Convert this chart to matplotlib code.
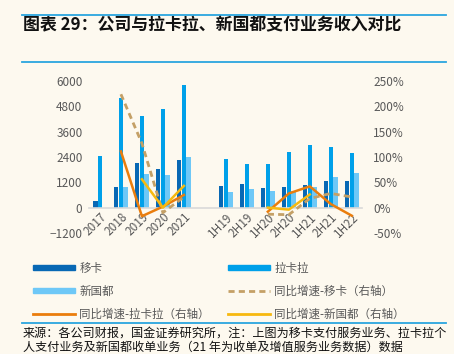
import numpy as np
import matplotlib
matplotlib.use('Agg')
import matplotlib.pyplot as plt
from matplotlib.lines import Line2D
from matplotlib.patches import Patch

plt.rcParams['font.family'] = ['Noto Sans CJK SC', 'DejaVu Sans']

# =========================
# Data
# =========================
cats = ['2017', '2018', '2019', '2020', '2021',
        '1H19', '2H19', '1H20', '2H20', '1H21', '2H21', '1H22']
# revenue (left axis)
yika = [320, 955, 2100, 1810, 2275, 1030, 1100, 920, 985, 1065, 1270, 1240]
lakala = [2430, 5200, 4340, 4690, 5790, 2290, 2080, 2080, 2650, 2990, 2880, 2575]
xinguodu = [np.nan, 1000, 1590, 1530, 2385, 745, 875, 810, 800, 990, 1445, 1640]
# yoy growth, % (right axis)
g_yika = [np.nan, 224, 127, -10, 21, np.nan, np.nan, -13, -14, 18, 28, 21]
g_lakala = [np.nan, 111, -17, 2, 25, np.nan, np.nan, -8, 28, 42, 7, -16]
g_xinguodu = [np.nan, np.nan, 56, 0, 43, np.nan, np.nan, 0, -4, 26, np.nan, np.nan]

c_yika = '#0868b4'
c_lakala = '#00a0e9'
c_xgd = '#6ec8f7'
c_gy = '#c4a066'
c_gl = '#ea7d0c'
c_gx = '#f7b90f'
bg = '#fdf9ef'
grey = '#595959'

# annual groups, one empty slot, then half-year groups
x = np.r_[np.arange(5), np.arange(6, 13)]

fig = plt.figure(figsize=(4.54, 3.54), dpi=100, facecolor=bg)
ax = fig.add_axes([0.197, 0.342, 0.601, 0.429], facecolor=bg)
ax2 = ax.twinx()

w = 0.22
ax.bar(x - w, yika, w * 0.95, color=c_yika, zorder=2)
ax.bar(x, lakala, w * 0.95, color=c_lakala, zorder=2)
ax.bar(x + w, xinguodu, w * 0.95, color=c_xgd, zorder=2)

# move the x axis to zero first (this resets tick settings)
for s in ['top', 'left', 'right']:
    ax.spines[s].set_visible(False)
ax.spines['bottom'].set_position(('data', 0))
ax.spines['bottom'].set_color('#d9d9d9')
ax.spines['bottom'].set_linewidth(1.2)

ax.set_ylim(-1200, 6000)
ax.set_yticks(np.arange(-1200, 6001, 1200))
ax.set_xlim(-0.5, 12.5)
ax.set_xticks(x)
ax.set_xticklabels(cats, rotation=45, ha='right', va='top',
                   rotation_mode='anchor', fontsize=8.5, color=grey)
ax.tick_params(axis='x', length=0, pad=2)
ax.tick_params(axis='y', length=0, labelsize=8.5, labelcolor=grey, pad=5)

ax2.plot(x, g_yika, color=c_gy, lw=2, ls=(0, (2.2, 1.5)), zorder=3)
ax2.plot(x, g_lakala, color=c_gl, lw=1.8, zorder=3)
ax2.plot(x, g_xinguodu, color=c_gx, lw=1.8, zorder=3)
ax2.set_ylim(-50, 250)
ax2.set_yticks(np.arange(-50, 251, 50))
ax2.set_yticklabels(['%d%%' % v for v in np.arange(-50, 251, 50)])
ax2.tick_params(axis='y', length=0, labelsize=8.5, labelcolor=grey, pad=8)
for s in ['top', 'left', 'right', 'bottom']:
    ax2.spines[s].set_visible(False)

# legend
handles = [Patch(color=c_yika), Patch(color=c_lakala),
           Patch(color=c_xgd), Line2D([], [], color=c_gy, lw=2, ls=(0, (2.2, 1.5))),
           Line2D([], [], color=c_gl, lw=2), Line2D([], [], color=c_gx, lw=2)]
labels = ['移卡', '拉卡拉', '新国都', '同比增速-移卡（右轴）',
          '同比增速-拉卡拉（右轴）', '同比增速-新国都（右轴）']
# reorder so that ncol=2 fills row by row
order = [0, 2, 4, 1, 3, 5]
leg = fig.legend([handles[i] for i in order], [labels[i] for i in order],
                 ncol=2, loc='upper left', bbox_to_anchor=(0.05, 0.29),
                 frameon=False, fontsize=8.3, labelcolor=grey,
                 handlelength=3.6, handleheight=0.35, handletextpad=0.4,
                 columnspacing=1.6, labelspacing=0.87)

# frame lines, title and source
blue = '#2aa5df'
fig.add_artist(Line2D([0.048, 0.983], [0.957, 0.957], color=blue, lw=1.3))
fig.add_artist(Line2D([0.048, 0.983], [0.825, 0.825], color=blue, lw=1.3))
fig.add_artist(Line2D([0.048, 0.983], [0.088, 0.088], color=blue, lw=1.3))
fig.text(0.05, 0.928, '图表 29：公司与拉卡拉、新国都支付业务收入对比',
         fontsize=12.2, fontweight='bold', style='italic', va='center', color='#111111')
fig.text(0.05, 0.059, '来源：各公司财报，国金证券研究所，注：上图为移卡支付服务业务、拉卡拉个',
         fontsize=8.7, va='center', color='#111111')
fig.text(0.05, 0.02, '人支付业务及新国都收单业务（21 年为收单及增值服务业务数据）数据',
         fontsize=8.7, va='center', color='#111111')

fig.savefig('out.png', dpi=100, facecolor=bg)
